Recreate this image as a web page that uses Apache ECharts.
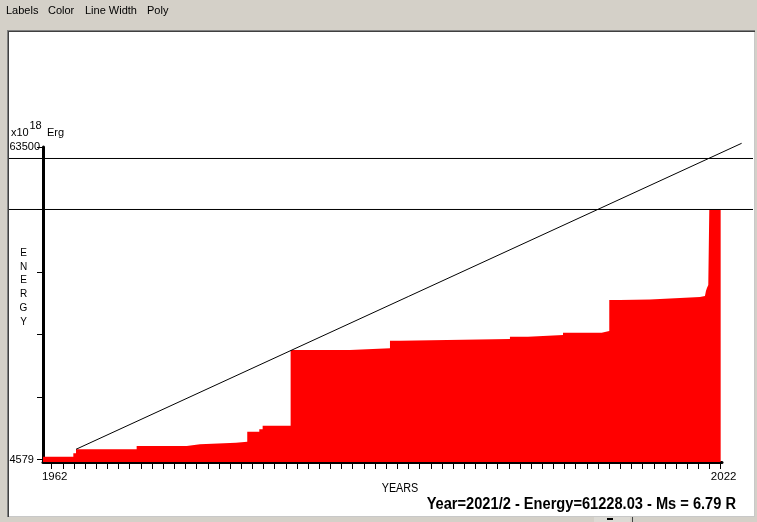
<!DOCTYPE html>
<html><head><meta charset="utf-8">
<script src="https://cdn.jsdelivr.net/npm/echarts@6/dist/echarts.min.js"></script>
<style>html,body{margin:0;padding:0;background:#d4d0c8}#c{width:757px;height:522px}</style>
</head><body><div id="c"></div>
<script>
// ---- data ----
const stepYears = [1961.22, 1963.94, 1964.18, 1969.62, 1974.11, 1975.30, 1978.53, 1979.54, 1980.62, 1980.92,
  1983.43, 1988.75, 1992.34, 1993.24, 2003.10, 2004.72, 2007.86, 2011.33, 2012.01, 2012.97,
  2015.66, 2018.35, 2020.14, 2020.59, 2020.68, 2020.77, 2020.89, 2020.98, 2022.0];
const stepEnergy = [5107, 5748, 6502, 7124, 7445, 7747, 7935, 9821, 10274, 10952,
  25224, 25547, 26979, 27300, 27733, 28054, 28487, 28808, 34652, 34747,
  35029, 35218, 35406, 35595, 36349, 36914, 37480, 51716, 51716];
const trendYears = [1964.18, 2023.88];
const trendEnergy = [6502, 64198];
const levelYears = [1958.17, 2024.9];
const levelEnergies = [61332, 51716];
const yTicks = [4579, 16363.2, 28147.4, 39931.6, 51715.8, 63500];
const yLabels = [4579, 63500];
const xTicks = []; for (let y = 1962; y <= 2022; y++) xTicks.push(y);
const xLabels = [1962, 2022];
const menuItems = ['Labels', 'Color', 'Line Width', 'Poly'];
const menuX = [6, 48, 85, 147];
const statusText = 'Year=2021/2 - Energy=61228.03 - Ms = 6.79 R';

const FONT = 'Liberation Sans';
const chart = echarts.init(document.getElementById('c'), null, {renderer: 'canvas'});

const zip = (a, b) => a.map((v, i) => [v, b[i]]);
const plain = v => String(v);

const graphics = [
  {type: 'rect', shape: {x: 7, y: 30, width: 748, height: 487}, style: {fill: '#808080'}, z: -20, silent: true},
  {type: 'rect', shape: {x: 8, y: 31, width: 747, height: 486}, style: {fill: '#404040'}, z: -19, silent: true},
  {type: 'rect', shape: {x: 9, y: 32, width: 745, height: 484}, style: {fill: '#ffffff'}, z: -18, silent: true},
  {type: 'rect', shape: {x: 754, y: 32, width: 1, height: 485}, style: {fill: '#c8c8c8'}, z: -17, silent: true},
  {type: 'rect', shape: {x: 9, y: 516, width: 746, height: 1}, style: {fill: '#c8c8c8'}, z: -17, silent: true},
  {type: 'rect', shape: {x: 594, y: 517, width: 36, height: 5}, style: {fill: '#dcdad4'}, z: -16, silent: true},
  {type: 'rect', shape: {x: 607, y: 518, width: 6, height: 2}, style: {fill: '#000000'}, z: -15, silent: true},
  {type: 'rect', shape: {x: 632, y: 517, width: 1, height: 5}, style: {fill: '#404040'}, z: -15, silent: true},
  // axis title texts
  {type: 'text', x: 11, y: 138.5, style: {text: 'x10', font: '11px ' + FONT, fill: '#000', textVerticalAlign: 'bottom'}},
  {type: 'text', x: 29.5, y: 131, style: {text: '18', font: '11px ' + FONT, fill: '#000', textVerticalAlign: 'bottom'}},
  {type: 'text', x: 47, y: 138.5, style: {text: 'Erg', font: '11px ' + FONT, fill: '#000', textVerticalAlign: 'bottom'}},
  {type: 'text', x: 400, y: 489, scaleX: 0.9, style: {text: 'YEARS', font: '12px ' + FONT, fill: '#000', textAlign: 'center', textVerticalAlign: 'middle'}},
  {type: 'text', x: 736, y: 504.5, scaleX: 0.914, style: {text: statusText, font: 'bold 16px ' + FONT, fill: '#000', textAlign: 'right', textVerticalAlign: 'middle'}}
];
'ENERGY'.split('').forEach((ch, i) => {
  graphics.push({type: 'text', x: 23.5, y: 253 + i * 13.8, style: {text: ch, font: '10px ' + FONT, fill: '#000', textAlign: 'center', textVerticalAlign: 'middle'}});
});
menuItems.forEach((m, i) => {
  graphics.push({type: 'text', x: menuX[i], y: 10.5, style: {text: m, font: '11px ' + FONT, fill: '#000', textVerticalAlign: 'middle'}});
});

const hiddenAxis = {show: false, splitLine: {show: false}};

chart.setOption({
  animation: false,
  backgroundColor: '#d4d0c8',
  grid: [
    {left: 43, right: 35, top: 147, bottom: 60, containLabel: false},
    {left: 9, right: 4, top: 100, bottom: 60, containLabel: false}
  ],
  xAxis: [{
    type: 'value', min: 1961.22, max: 2022.12, gridIndex: 0,
    splitLine: {show: false},
    axisLine: {show: true, lineStyle: {color: '#000', width: 3}},
    axisTick: {show: true, length: 7, customValues: xTicks, lineStyle: {color: '#000', width: 1}},
    axisLabel: {customValues: xLabels, formatter: plain, margin: 9, padding: [0, 0, 0, 6], color: '#000', fontSize: 11.5, fontFamily: FONT}
  }, Object.assign({type: 'value', min: levelYears[0], max: levelYears[1], gridIndex: 1}, hiddenAxis)],
  yAxis: [{
    type: 'value', min: 4108, max: 63500, gridIndex: 0,
    splitLine: {show: false},
    axisLine: {show: true, lineStyle: {color: '#000', width: 3}},
    axisTick: {show: true, length: 6, customValues: yTicks, lineStyle: {color: '#000', width: 1}},
    axisLabel: {customValues: yLabels, formatter: plain, align: 'left', margin: 33.5, color: '#000', fontSize: 11, fontFamily: FONT}
  }, Object.assign({type: 'value', min: 4108, max: 72361.7, gridIndex: 1}, hiddenAxis)],
  graphic: graphics,
  series: [
    {type: 'line', step: 'end', symbol: 'none', data: zip(stepYears, stepEnergy),
     lineStyle: {width: 0, color: '#ff0000'}, areaStyle: {color: '#ff0000', opacity: 1}, itemStyle: {color: '#ff0000'}, z: 2},
    {type: 'line', symbol: 'none', xAxisIndex: 1, yAxisIndex: 1, data: zip(trendYears, trendEnergy),
     lineStyle: {width: 1, color: '#000'}, z: 3},
    {type: 'line', symbol: 'none', xAxisIndex: 1, yAxisIndex: 1, data: zip(levelYears, [levelEnergies[0], levelEnergies[0]]),
     lineStyle: {width: 1, color: '#000'}, z: 3},
    {type: 'line', symbol: 'none', xAxisIndex: 1, yAxisIndex: 1, data: zip(levelYears, [levelEnergies[1], levelEnergies[1]]),
     lineStyle: {width: 1, color: '#000'}, z: 3}
  ]
});
</script></body></html>
